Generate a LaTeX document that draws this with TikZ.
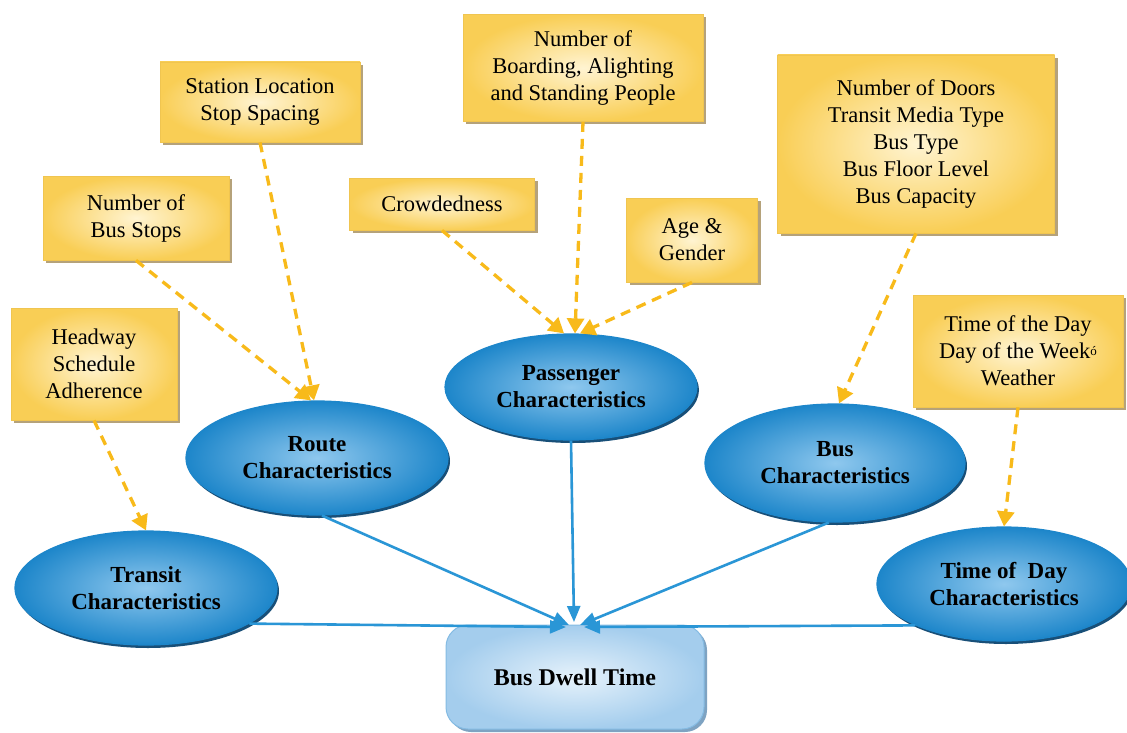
\documentclass[tikz,border=0pt]{standalone}
\usepackage{fontspec}
\setmainfont{Liberation Serif}
\usetikzlibrary{shapes.geometric,shadows,arrows.meta,calc}
\definecolor{ydark}{HTML}{F9CE55}
\definecolor{ylight}{HTML}{FFF4D2}
\definecolor{yborder}{HTML}{F0C550}
\definecolor{yshadow}{HTML}{B5A27A}
\definecolor{bdark}{HTML}{1D86CA}
\definecolor{blight}{HTML}{8FC8EE}
\definecolor{bshadow}{HTML}{184F78}
\definecolor{bline}{HTML}{2A96D6}
\definecolor{dashc}{HTML}{F8BA1A}
\definecolor{dwdark}{HTML}{A4CDED}
\definecolor{dwlight}{HTML}{E6F2FB}
\definecolor{dwborder}{HTML}{84BBE3}
\definecolor{dwshadow}{HTML}{7EA3C2}
\tikzset{
  ybox/.style={rectangle, draw=yborder, line width=0.8pt,
    inner color=ylight, outer color=ydark,
    drop shadow={shadow xshift=3pt, shadow yshift=-3pt, fill=yshadow, opacity=1},
    align=center, inner sep=2pt, font=\fontsize{22.5}{27}\selectfont},
  ellip/.style={ellipse, draw=bdark, line width=1.2pt,
    inner color=blight, outer color=bdark,
    drop shadow={shadow xshift=2pt, shadow yshift=-3pt, fill=bshadow, opacity=1},
    align=center, inner sep=0pt, font=\bfseries\fontsize{23}{27}\selectfont},
  dwbox/.style={rectangle, rounded corners=22pt, draw=dwborder, line width=1pt,
    inner color=dwlight, outer color=dwdark,
    drop shadow={shadow xshift=3pt, shadow yshift=-3pt, fill=dwshadow, opacity=1},
    align=center, font=\bfseries\fontsize{24}{28}\selectfont},
  darrow/.style={draw=dashc, line width=3.3pt, dash pattern=on 10pt off 7pt,
    -{Triangle[length=15pt,width=17pt]}},
  barrow/.style={draw=bline, line width=2.6pt, -{Triangle[length=16pt,width=13pt]}}
}
\begin{document}
\begin{tikzpicture}[x=1pt,y=-1pt]
\useasboundingbox (0,0) rectangle (1127,733);
\fill[white] (0,0) rectangle (1127,733);

% yellow factor boxes
\node[ybox, minimum width=200pt, minimum height=80pt] (station) at (260,102)
  {Station Location\\Stop Spacing};
\node[ybox, minimum width=240pt, minimum height=107pt] (boarding) at (583,68)
  {Number of\\Boarding, Alighting\\and Standing People};
\node[ybox, minimum width=277pt, minimum height=178pt] (doors) at (916,144)
  {Number of Doors\\Transit Media Type\\Bus Type\\Bus Floor Level\\Bus Capacity};
\node[ybox, minimum width=186pt, minimum height=84pt] (busstops) at (136,218)
  {Number of\\Bus Stops};
\node[ybox, minimum width=185pt, minimum height=52pt] (crowd) at (442,204)
  {Crowdedness};
\node[ybox, minimum width=131pt, minimum height=84pt] (age) at (692,240)
  {Age \&\\Gender};
\node[ybox, minimum width=166pt, minimum height=112pt] (headway) at (94,364)
  {Headway\\Schedule\\Adherence};
\node[ybox, minimum width=210pt, minimum height=112pt] (timebox) at (1018,351)
  {Time of the Day\\Day of the Week\raisebox{3pt}{\fontsize{13}{13}\selectfont ó}\\Weather};

% blue characteristic ellipses
\node[ellip, minimum width=252pt, minimum height=106pt] (passenger) at (571,387)
  {Passenger\\Characteristics};
\node[ellip, minimum width=262pt, minimum height=114pt] (route) at (317,458)
  {Route\\Characteristics};
\node[ellip, minimum width=260pt, minimum height=118pt] (bus) at (835,463)
  {Bus\\Characteristics};
\node[ellip, minimum width=262pt, minimum height=114pt] (transit) at (146,588)
  {Transit\\Characteristics};
\node[ellip, minimum width=254pt, minimum height=114pt] (timeday) at (1004,584)
  {Time of~ Day\\Characteristics};

% target
\node[dwbox, minimum width=258pt, minimum height=104pt] (dwell) at (575,677)
  {Bus Dwell Time};

% dashed factor arrows
\draw[darrow] (headway.south) -- (transit.north);
\draw[darrow] (busstops.south) -- ($(route.north)+(-6,0)$);
\draw[darrow] (station.south) -- ($(route.north)+(-3,0)$);
\draw[darrow] (crowd.south) -- ($(passenger.north)+(-7,0)$);
\draw[darrow] (boarding.south) -- ($(passenger.north)+(4,0)$);
\draw[darrow] (age.south) -- ($(passenger.north)+(9,0)$);
\draw[darrow] (doors.south) -- ($(bus.north)+(4,0)$);
\draw[darrow] (timebox.south) -- (timeday.north);

% blue connectors to the bus dwell time box
\coordinate (hubD) at (574,622);
\coordinate (hubRouteEnd) at (569,625);
\coordinate (hubBusEnd) at (580,625);
\coordinate (hubL) at (566,627);
\coordinate (hubR) at (584,627);
\draw[barrow] (passenger.south) -- (hubD);
\draw[barrow] (route.-85) -- (hubRouteEnd);
\draw[barrow] (bus.-96) -- (hubBusEnd);
\draw[barrow] (transit.-19) -- (hubL);
\draw[barrow] (timeday.205) -- (hubR);
\end{tikzpicture}
\end{document}
